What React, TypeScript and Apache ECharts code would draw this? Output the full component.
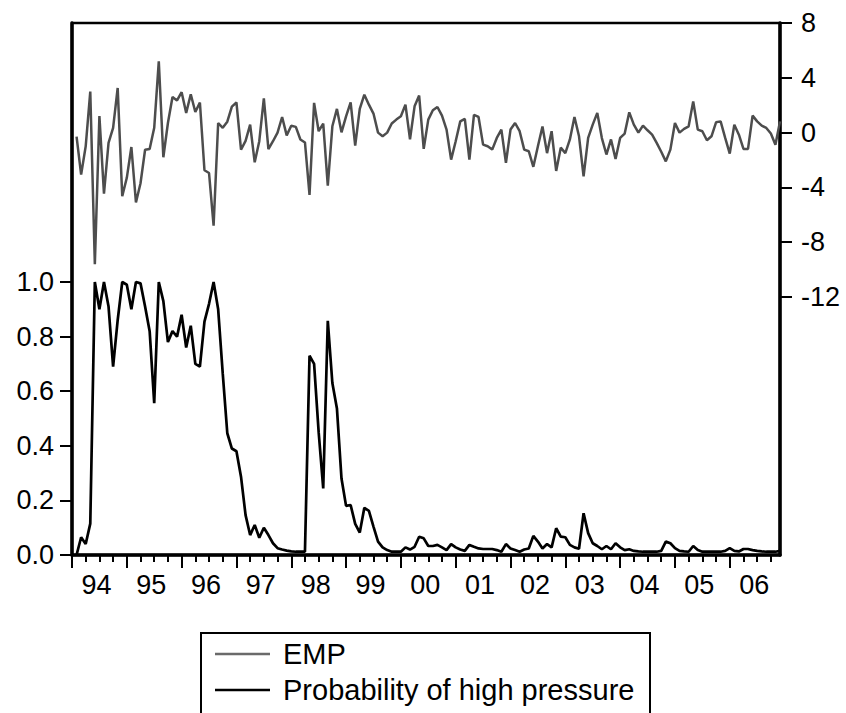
import React, { useEffect, useRef } from "react";
import * as echarts from "echarts";

// Monthly categories, 1994M01 .. 2006M12
const years = [1994, 1995, 1996, 1997, 1998, 1999, 2000, 2001, 2002, 2003, 2004, 2005, 2006];
const monthNames = ["01", "02", "03", "04", "05", "06", "07", "08", "09", "10", "11", "12"];
const months: string[] = [];
years.forEach((y) => monthNames.forEach((m) => months.push(`${y}M${m}`)));

// EMP (right axis), first observation 1994M02
const empValues: (number | null)[] = [
  null, -0.3, -3.07, -1.0, 3.0, -9.6, 1.2, -4.45, -0.75, 0.35, 3.26, -4.65,
  -3.3, -1.05, -5.1, -3.7, -1.25, -1.2, 0.35, 5.2, -1.8, 0.7, 2.6, 2.35,
  2.95, 1.44, 2.8, 1.5, 2.2, -2.75, -2.95, -6.8, 0.7, 0.35, 0.8, 1.9,
  2.2, -1.25, -0.6, 0.58, -2.17, -0.63, 2.5, -1.2, -0.63, 0.0, 1.14, -0.2,
  0.5, 0.42, -0.5, -0.72, -4.55, 2.17, 0.1, 0.66, -3.87, 0.46, 1.73, 0.02,
  1.19, 2.2, -0.95, 1.73, 2.77, 2.04, 1.39, 0.0, -0.27, 0.0, 0.66, 0.95,
  1.19, 2.04, -0.5, 1.92, 2.7, -1.19, 0.95, 1.63, 1.87, 1.24, 0.22, -1.97,
  -0.63, 0.82, 1.0, -1.97, 1.29, 1.14, -0.88, -1.0, -1.24, -0.39, 0.22, -2.2,
  0.22, 0.7, 0.1, -1.24, -1.36, -2.5, -1.0, 0.44, -1.5, 0.1, -2.8, -1.1,
  -1.5, -0.5, 1.14, -0.27, -3.2, -0.39, 0.58, 1.44, -0.4, -1.6, -0.5, -1.92,
  -0.39, -0.07, 1.48, 0.58, 0.0, 0.51, 0.17, -0.15, -0.75, -1.4, -2.1, -1.24,
  0.7, 0.0, 0.27, 0.46, 2.28, 0.22, 0.1, -0.56, -0.27, 0.75, 0.82, -0.39,
  -1.53, 0.58, -0.15, -1.19, -1.19, 1.24, 0.82, 0.51, 0.34, -0.07, -0.88, 0.82,
];

// Probability of high pressure (left axis)
const probValues: (number | null)[] = [
  null, 0.0, 0.065, 0.04, 0.115, 1.0, 0.9, 1.0, 0.91, 0.69, 0.86, 1.0,
  0.99, 0.9, 1.0, 0.995, 0.91, 0.82, 0.556, 1.0, 0.93, 0.78, 0.82, 0.8,
  0.88, 0.76, 0.84, 0.7, 0.69, 0.855, 0.92, 1.0, 0.9, 0.665, 0.446, 0.39,
  0.38, 0.287, 0.146, 0.073, 0.11, 0.063, 0.1, 0.073, 0.043, 0.025, 0.02, 0.016,
  0.013, 0.012, 0.012, 0.012, 0.73, 0.7, 0.45, 0.244, 0.858, 0.63, 0.537, 0.28,
  0.18, 0.183, 0.114, 0.082, 0.173, 0.162, 0.104, 0.049, 0.028, 0.018, 0.012, 0.012,
  0.012, 0.028, 0.02, 0.03, 0.067, 0.061, 0.033, 0.033, 0.037, 0.028, 0.018, 0.04,
  0.028, 0.02, 0.015, 0.037, 0.03, 0.024, 0.022, 0.022, 0.022, 0.018, 0.012, 0.04,
  0.024, 0.018, 0.012, 0.02, 0.024, 0.07, 0.049, 0.024, 0.04, 0.028, 0.098, 0.067,
  0.065, 0.037, 0.028, 0.023, 0.153, 0.08, 0.043, 0.033, 0.021, 0.033, 0.021, 0.043,
  0.028, 0.018, 0.021, 0.015, 0.013, 0.012, 0.012, 0.012, 0.012, 0.015, 0.049, 0.043,
  0.025, 0.015, 0.013, 0.012, 0.033, 0.018, 0.012, 0.012, 0.012, 0.012, 0.012, 0.015,
  0.025, 0.015, 0.013, 0.022, 0.022, 0.018, 0.015, 0.013, 0.012, 0.012, 0.012, 0.015,
];

const leftTicks = { min: 0, max: 1, interval: 0.2 };
const rightTicks = { min: -12, max: 8, interval: 4 };

const FONT = "Liberation Sans";

export default function App() {
  const ref = useRef<HTMLDivElement>(null);
  useEffect(() => {
    if (!ref.current) return;
    const chart = echarts.init(ref.current, undefined, { renderer: "svg" });
    const L = 72, R = 66, T = 23, B = 158;
    const label = { fontFamily: FONT, fontSize: 27, color: "#000" };
    chart.setOption({
      animation: false,
      backgroundColor: "#fff",
      grid: [
        { left: L, right: R, top: T, bottom: B, show: true, borderColor: "#000", borderWidth: 2.5, backgroundColor: "transparent" },
        { left: L, right: R, top: 282, bottom: B },
        { left: L, right: R, top: T, height: 274 },
      ],
      xAxis: [
        {
          gridIndex: 0, type: "category", data: months, boundaryGap: false, position: "bottom",
          axisLine: { show: true, lineStyle: { color: "#000", width: 3.5 } },
          axisTick: { show: true, length: 7, lineStyle: { color: "#000", width: 2 }, interval: (i: number) => i % 3 === 0 },
          axisLabel: {
            show: true, ...label, margin: 16, padding: [0, 6, 0, 0],
            interval: (i: number) => i % 12 === 6,
            formatter: (v: string) => v.slice(2, 4),
          },
          splitLine: { show: false },
        },
        {
          gridIndex: 0, type: "category", data: months, boundaryGap: false, position: "bottom",
          axisLine: { show: false },
          axisTick: { show: true, length: 13, lineStyle: { color: "#000", width: 2 }, interval: (i: number) => i % 12 === 0 },
          axisLabel: { show: false },
          splitLine: { show: false },
        },
        { gridIndex: 1, type: "category", data: months, boundaryGap: false, show: false },
        { gridIndex: 2, type: "category", data: months, boundaryGap: false, show: false },
      ],
      yAxis: [
        {
          gridIndex: 0, type: "value", position: "left", min: 0, max: 1,
          axisLine: { show: true, lineStyle: { color: "#000", width: 3.5 } },
          axisTick: { show: false }, axisLabel: { show: false }, splitLine: { show: false },
        },
        {
          gridIndex: 0, type: "value", position: "right", min: 0, max: 1,
          axisLine: { show: true, lineStyle: { color: "#000", width: 3.5 } },
          axisTick: { show: false }, axisLabel: { show: false }, splitLine: { show: false },
        },
        {
          gridIndex: 1, type: "value", position: "left", ...leftTicks,
          axisLine: { show: false },
          axisTick: { show: true, length: 12, lineStyle: { color: "#000", width: 2 } },
          axisLabel: { ...label, margin: 18, padding: [0, 0, 4, 0], formatter: (v: number) => v.toFixed(1) },
          splitLine: { show: false },
        },
        {
          gridIndex: 2, type: "value", position: "right", ...rightTicks,
          axisLine: { show: false },
          axisTick: { show: true, length: 12, lineStyle: { color: "#000", width: 2 } },
          axisLabel: { ...label, margin: 21, padding: [0, 0, 7, 0] },
          splitLine: { show: false },
        },
      ],
      legend: {
        orient: "vertical", left: 215, top: 639, padding: 0, itemGap: 6,
        itemWidth: 55, itemHeight: 2.5,
        textStyle: { fontFamily: FONT, fontSize: 29, color: "#000", lineHeight: 30, padding: [0, 0, 0, 8] },
        data: [
          { name: "EMP", icon: "rect", itemStyle: { color: "#6a6a6a" } },
          { name: "Probability of high pressure", icon: "rect", itemStyle: { color: "#000" } },
        ],
      },
      graphic: [
        { type: "rect", shape: { x: 201, y: 633, width: 449, height: 120 }, style: { fill: "none", stroke: "#000", lineWidth: 2 }, silent: true },
      ],
      series: [
        {
          name: "EMP", type: "line", xAxisIndex: 3, yAxisIndex: 3, data: empValues,
          symbol: "none", clip: false, lineStyle: { color: "#4d4d4d", width: 2.5 }, itemStyle: { color: "#4d4d4d" },
        },
        {
          name: "Probability of high pressure", type: "line", xAxisIndex: 2, yAxisIndex: 2, data: probValues,
          symbol: "none", clip: false, lineStyle: { color: "#000", width: 2.7 }, itemStyle: { color: "#000" },
        },
      ],
    });
    return () => chart.dispose();
  }, []);
  return <div ref={ref} style={{ position: "fixed", left: 0, top: 0, width: 846, height: 713 }} />;
}
